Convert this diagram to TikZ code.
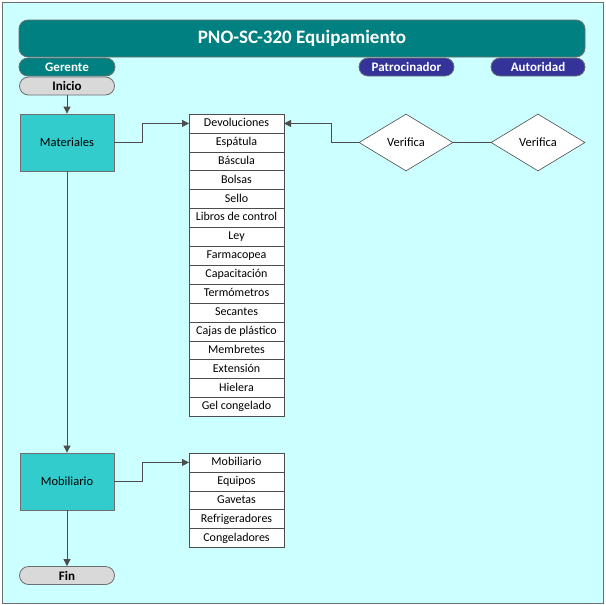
\documentclass[tikz,border=0pt]{standalone}
\usepackage{fontspec}
\setmainfont{Carlito}
\usetikzlibrary{shapes.geometric,arrows.meta}
\definecolor{bgcyan}{HTML}{CCFFFF}
\definecolor{tealdark}{HTML}{008080}
\definecolor{tealbox}{HTML}{33CCCC}
\definecolor{navy}{HTML}{333399}
\definecolor{termgray}{HTML}{D9D9D9}
\definecolor{edgegray}{HTML}{6E6E6E}
\definecolor{linegray}{HTML}{4D4D4D}
\tikzset{
  banner/.style={draw=edgegray, line width=0.8pt, rounded corners=9pt, inner sep=0pt, text=white},
  terminal/.style={draw=edgegray, line width=0.8pt, rounded corners=9pt, fill=termgray, minimum width=95pt, minimum height=18pt, inner sep=0pt, font=\bfseries\fontsize{13}{14}\selectfont},
  process/.style={draw=edgegray, line width=0.8pt, fill=tealbox, minimum width=94pt, minimum height=57pt, inner sep=0pt, font=\fontsize{12.5}{13}\selectfont},
  item/.style={draw=linegray, line width=0.6pt, fill=white, minimum width=95pt, minimum height=18.9pt, inner sep=0pt, outer sep=0pt, text height=8.6pt, text depth=2.6pt, font=\fontsize{12}{13}\selectfont},
  decision/.style={draw=linegray, line width=0.6pt, fill=white, diamond, aspect=1.65, minimum width=94pt, minimum height=57pt, inner sep=0pt, font=\fontsize{12.5}{13}\selectfont},
  flow/.style={draw=linegray, line width=0.8pt, -{Triangle[length=7pt,width=7pt]}},
  link/.style={draw=linegray, line width=0.8pt}
}
\begin{document}
\begin{tikzpicture}[x=1pt,y=-1pt]
\useasboundingbox (0,0) rectangle (605,605);
% background frame
\draw[fill=bgcyan, draw=edgegray, line width=1pt] (2,2) rectangle (603,603);

% header band and role labels
\node[banner, fill=tealdark, minimum width=566pt, minimum height=37pt, font=\bfseries\fontsize{19}{20}\selectfont] (title) at (302,38.5) {PNO-SC-320 Equipamiento};
\node[banner, fill=tealdark, minimum width=96pt, minimum height=18pt, font=\bfseries\fontsize{13}{14}\selectfont] (gerente) at (67,67) {Gerente};
\node[banner, fill=navy, minimum width=95pt, minimum height=18pt, font=\bfseries\fontsize{13}{14}\selectfont] (patro) at (406.5,67) {Patrocinador};
\node[banner, fill=navy, minimum width=94pt, minimum height=18pt, font=\bfseries\fontsize{13}{14}\selectfont] (autor) at (538,67) {Autoridad};

% start / end
\node[terminal] (inicio) at (67,86) {Inicio};
\node[terminal] (fin) at (67,575.5) {Fin};

% process steps
\node[process] (mat) at (67,142.5) {Materiales};
\node[process] (mob) at (67,481.5) {Mobiliario};

% materials list
\node[item, anchor=north] (m1) at (236.5,114) {Devoluciones};
\node[item, anchor=north] (m2) at (m1.south) {Espátula};
\node[item, anchor=north] (m3) at (m2.south) {Báscula};
\node[item, anchor=north] (m4) at (m3.south) {Bolsas};
\node[item, anchor=north] (m5) at (m4.south) {Sello};
\node[item, anchor=north] (m6) at (m5.south) {Libros de control};
\node[item, anchor=north] (m7) at (m6.south) {Ley};
\node[item, anchor=north] (m8) at (m7.south) {Farmacopea};
\node[item, anchor=north] (m9) at (m8.south) {Capacitación};
\node[item, anchor=north] (m10) at (m9.south) {Termómetros};
\node[item, anchor=north] (m11) at (m10.south) {Secantes};
\node[item, anchor=north] (m12) at (m11.south) {Cajas de plástico};
\node[item, anchor=north] (m13) at (m12.south) {Membretes};
\node[item, anchor=north] (m14) at (m13.south) {Extensión};
\node[item, anchor=north] (m15) at (m14.south) {Hielera};
\node[item, anchor=north] (m16) at (m15.south) {Gel congelado};

% furniture list
\node[item, anchor=north] (f1) at (236.5,453) {Mobiliario};
\node[item, anchor=north] (f2) at (f1.south) {Equipos};
\node[item, anchor=north] (f3) at (f2.south) {Gavetas};
\node[item, anchor=north] (f4) at (f3.south) {Refrigeradores};
\node[item, anchor=north] (f5) at (f4.south) {Congeladores};

% checks
\node[decision] (v1) at (406,142.5) {Verifica};
\node[decision] (v2) at (538,142.5) {Verifica};

% connectors
\draw[flow] (inicio.south) -- (mat.north);
\draw[flow] (mat.south) -- (mob.north);
\draw[flow] (mob.south) -- (fin.north);
\draw[flow] (mat.east) -| (142.5,0 |- m1.west) -- (m1.west);
\draw[flow] (mob.east) -| (142.5,0 |- f1.west) -- (f1.west);
\draw[flow] (v1.west) -| (331,0 |- m1.east) -- (m1.east);
\draw[link] (v1.east) -- (v2.west);
\end{tikzpicture}
\end{document}
